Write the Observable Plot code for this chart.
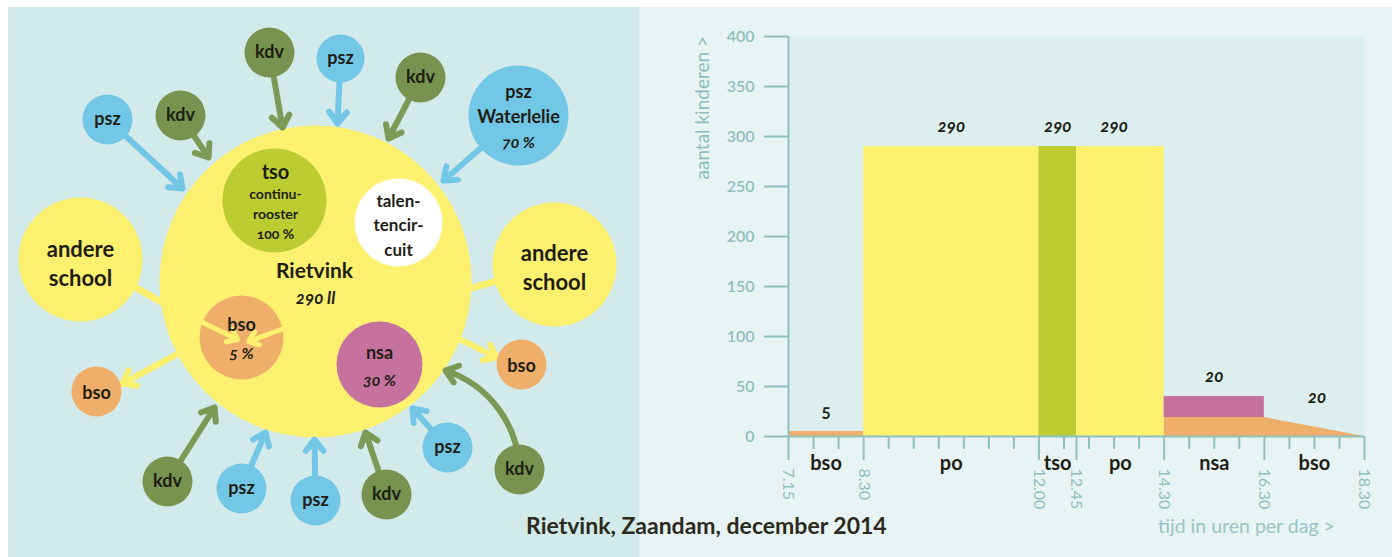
<!DOCTYPE html>
<html><head><meta charset="utf-8">
<script src="https://cdn.jsdelivr.net/npm/d3@7"></script>
<script src="https://cdn.jsdelivr.net/npm/@observablehq/plot@0.6"></script>
<style>
body{margin:0;background:#fff;font-family:Lato,sans-serif;}
#page{position:relative;width:1392px;height:557px;overflow:hidden;background:#fff;}
#leftbg{position:absolute;left:8px;top:7px;width:631px;height:550px;background:#d3eaea;}
#rightbg{position:absolute;left:639px;top:7px;width:753px;height:550px;background:#e8f4f4;}
.abs{position:absolute;}
svg{font-variant-numeric:oldstyle-nums;}
#ytitle{position:absolute;left:691px;top:36px;writing-mode:vertical-rl;transform:rotate(180deg);font-size:19px;line-height:22px;color:#8dbdbd;white-space:nowrap;}
#xtitle{position:absolute;left:1158px;top:515px;font-size:19.5px;line-height:22px;color:#97c4c4;white-space:nowrap;}
#caption{position:absolute;left:526px;top:513px;font-size:23px;line-height:25px;font-weight:bold;color:#2b2a1c;white-space:nowrap;}
</style></head><body>
<div id="page">
  <div id="leftbg"></div><div id="rightbg"></div>
  <div id="left" class="abs" style="left:0;top:0"></div>
  <div id="right" class="abs" style="left:639px;top:7px"></div>
  <div id="ytitle">aantal kinderen &gt;</div>
  <div id="xtitle">tijd in uren per dag &gt;</div>
  <div id="caption">Rietvink, Zaandam, december 2014</div>
</div>
<script>
// ---------- right chart data ----------
const barNames = ["bso", "po", "tso", "po", "nsa"];
const barFrom  = [7, 8.5, 12, 12.75, 14.5];
const barTo    = [8.5, 12, 12.75, 14.5, 16.5];
const barLow   = [0, 0, 0, 0, 19];
const barHigh  = [5, 290, 290, 290, 40];
const bsoAfterTime  = [14.5, 16.5, 18.5];
const bsoAfterCount = [19, 19, 0];
const segLabels = ["bso", "po", "tso", "po", "nsa", "bso"];
const segFrom   = [7, 8.5, 12, 12.75, 14.5, 16.5];
const segTo     = [8.5, 12, 12.75, 14.5, 16.5, 18.5];
const valueText = ["5", "290", "290", "290", "20", "20"];
const valueX    = [7.75, 10.25, 12.375, 13.5, 15.5, 17.55];
const valueY    = [5, 290, 290, 290, 40, 19];
const xMajor      = [7, 8.5, 12, 12.75, 14.5, 16.5, 18.5];
const xMajorLabel = ["7.15", "8.30", "12.00", "12.45", "14.30", "16.30", "18.30"];
const xMinor = [7.5, 8, 9, 9.5, 10, 10.5, 11, 11.5, 12.5, 13, 13.5, 14, 15, 15.5, 16, 17, 17.5, 18];
const yTicks = [0, 50, 100, 150, 200, 250, 300, 350, 400];

// ---------- left diagram data ----------
const satType = ["kdv","psz","kdv","psz","kdv","psz","kdv","psz","psz","kdv","psz","kdv"];
const satX    = [269, 340, 420, 107, 180, 518, 167, 241, 315, 386, 447, 519];
const satY    = [52, 58, 77, 119, 115, 115, 481, 488, 500, 494, 447, 469];
const satR    = [25, 24, 25, 25, 25, 50, 25, 25, 25, 25, 25, 25];
const satToX  = [282, 337, 388, 182, 208, 443, 214, 265, 314, 365, 412, 445];
const satToY  = [127, 123, 138, 188, 157, 180, 407, 432, 439, 432, 408, 370];
const satText = ["kdv","psz","kdv","psz","kdv","psz\nWaterlelie","kdv","psz","psz","kdv","psz","kdv"];

const palette = {
  yellow: "#fdf16f", psz: "#72c6e6", kdv: "#78934f", kdvArrow: "#7a9a55",
  bso: "#efae69", nsa: "#c6719e", tso: "#bdcc31", po: "#fdf16f",
  white: "#ffffff", ink: "#1e1e14", axis: "#8fbfbf", plotBg: "#dceeee"
};

// ---------- left diagram ----------
const sats = satType.map((t, i) => ({type: t, x: satX[i], y: satY[i], r: satR[i], tx: satToX[i], ty: satToY[i], text: satText[i]}));
const straightSats = sats.filter((d, i) => i !== 11);
const curvedSats = sats.filter((d, i) => i === 11);

const hub = [{x: 315, y: 281, r: 156}];
const otherSchools = [{x: 80, y: 259, r: 62}, {x: 554, y: 264, r: 62}];
const connectors = [{x1: 130, y1: 284, x2: 172, y2: 308}, {x1: 462, y1: 290, x2: 502, y2: 279}];
const outBso = [{x: 96, y: 391, r: 25}, {x: 521, y: 364, r: 25}];
const outArrows = [{x1: 178, y1: 353, x2: 122, y2: 383}, {x1: 458, y1: 338, x2: 496, y2: 357}];
const inner = [
  {x: 274, y: 200, r: 52, fill: palette.tso},
  {x: 398, y: 222, r: 44, fill: palette.white},
  {x: 241, y: 337, r: 42, fill: palette.bso},
  {x: 379, y: 364, r: 43, fill: palette.nsa}
];
const innerArrows = [{x1: 198, y1: 320, x2: 237, y2: 339}, {x1: 286, y1: 327, x2: 248, y2: 341}];

const labels = [
  {x: 80, y: 262, t: "andere\nschool", s: 22, w: "bold", st: "normal"},
  {x: 554, y: 266, t: "andere\nschool", s: 22, w: "bold", st: "normal"},
  {x: 96, y: 391, t: "bso", s: 18, w: "bold", st: "normal"},
  {x: 521, y: 364, t: "bso", s: 18, w: "bold", st: "normal"},
  {x: 314, y: 269, t: "Rietvink", s: 21, w: "bold", st: "normal"},
  {x: 315, y: 296, t: "290 ll", s: 17, w: "bold", st: "italic"},
  {x: 275, y: 170, t: "tso", s: 20, w: "bold", st: "normal"},
  {x: 275, y: 193, t: "continu-", s: 14, w: "bold", st: "normal"},
  {x: 275, y: 213, t: "rooster", s: 14, w: "bold", st: "normal"},
  {x: 275, y: 233, t: "100 %", s: 14, w: "bold", st: "normal"},
  {x: 398, y: 199, t: "talen-", s: 17, w: "bold", st: "normal"},
  {x: 398, y: 223, t: "tencir-", s: 17, w: "bold", st: "normal"},
  {x: 398, y: 248, t: "cuit", s: 17, w: "bold", st: "normal"},
  {x: 241, y: 323, t: "bso", s: 18, w: "bold", st: "normal"},
  {x: 241, y: 352, t: "5 %", s: 16, w: "bold", st: "italic"},
  {x: 379, y: 351, t: "nsa", s: 18, w: "bold", st: "normal"},
  {x: 379, y: 379, t: "30 %", s: 16, w: "bold", st: "italic"},
  {x: 518, y: 141, t: "70 %", s: 16, w: "bold", st: "italic"}
];

const arrowOpts = {headLength: 3.6, headAngle: 75, strokeLinejoin: "miter"};
const textMarks = labels.map(d => Plot.text([d], {x: "x", y: "y", text: "t", fontSize: d.s, fontWeight: d.w, fontStyle: d.st, fill: palette.ink, lineHeight: 1.3}));

const leftPlot = Plot.plot({
  width: 639, height: 557, margin: 0,
  x: {type: "identity", axis: null}, y: {type: "identity", axis: null}, r: {type: "identity"},
  color: {type: "identity"},
  style: {background: "transparent", fontFamily: "Lato", overflow: "visible"},
  marks: [
    Plot.link(connectors, {x1: "x1", y1: "y1", x2: "x2", y2: "y2", stroke: palette.yellow, strokeWidth: 7}),
    Plot.dot(hub, {x: "x", y: "y", r: "r", fill: palette.yellow}),
    Plot.arrow(outArrows, {x1: "x1", y1: "y1", x2: "x2", y2: "y2", stroke: palette.yellow, strokeWidth: 6, ...arrowOpts}),
    Plot.arrow(straightSats, {x1: "x", y1: "y", x2: "tx", y2: "ty", stroke: d => d.type === "psz" ? palette.psz : palette.kdvArrow, strokeWidth: 6, ...arrowOpts}),
    Plot.arrow(curvedSats, {x1: "x", y1: "y", x2: "tx", y2: "ty", stroke: palette.kdvArrow, strokeWidth: 6, bend: -35, ...arrowOpts}),
    Plot.dot(inner, {x: "x", y: "y", r: "r", fill: "fill"}),
    Plot.arrow(innerArrows, {x1: "x1", y1: "y1", x2: "x2", y2: "y2", stroke: palette.yellow, strokeWidth: 5, headLength: 3.4, headAngle: 75, strokeLinejoin: "miter"}),
    Plot.dot(sats, {x: "x", y: "y", r: "r", fill: d => d.type === "psz" ? palette.psz : palette.kdv}),
    Plot.dot(otherSchools, {x: "x", y: "y", r: "r", fill: palette.yellow}),
    Plot.dot(outBso, {x: "x", y: "y", r: "r", fill: palette.bso}),
    Plot.text(sats.filter(d => d.r < 40), {x: "x", y: "y", text: "text", fontSize: 18, fontWeight: "bold", fill: palette.ink}),
    Plot.text(sats.filter(d => d.r >= 40), {x: "x", y: d => d.y - 13, text: "text", fontSize: 18, fontWeight: "bold", fill: palette.ink, lineHeight: 1.4}),
    ...textMarks
  ]
});
document.getElementById("left").appendChild(leftPlot);

// ---------- right chart ----------
const bars = barNames.map((n, i) => ({name: n, x1: barFrom[i], x2: barTo[i], y1: barLow[i], y2: barHigh[i]}));
const tail = bsoAfterTime.map((t, i) => ({x: t, y: bsoAfterCount[i]}));
const segs = segLabels.map((s, i) => ({s, x: (segFrom[i] + segTo[i]) / 2}));
const vals = valueText.map((t, i) => ({t, x: valueX[i], y: valueY[i], italic: t !== "5"}));
const majorLabel = new Map(xMajor.map((v, i) => [v, xMajorLabel[i]]));

const rightPlot = Plot.plot({
  width: 753, height: 550,
  marginLeft: 149, marginRight: 28, marginTop: 29, marginBottom: 121,
  x: {domain: [7, 18.5]}, y: {domain: [0, 400]},
  style: {background: "transparent", fontFamily: "Lato", overflow: "visible"},
  marks: [
    Plot.frame({fill: palette.plotBg, stroke: null}),
    Plot.areaY(tail, {x: "x", y: "y", fill: palette.bso, curve: "linear"}),
    Plot.rect(bars, {x1: "x1", x2: "x2", y1: "y1", y2: "y2", fill: d => palette[d.name]}),
    Plot.ruleX(xMinor, {y1: 0, y2: -13, stroke: palette.axis, strokeWidth: 2}),
    Plot.axisX(xMajor, {tickSize: 24, tickRotate: 90, tickPadding: 8, tickFormat: d => majorLabel.get(d), fontSize: 16, color: palette.axis, strokeWidth: 2, label: null}),
    Plot.axisY(yTicks, {tickSize: 24, tickPadding: 10, fontSize: 16, fontWeight: 600, color: palette.axis, strokeWidth: 2, label: null}),
    Plot.ruleX([7], {stroke: palette.axis, strokeWidth: 2}),
    Plot.ruleY([0], {stroke: palette.axis, strokeWidth: 2}),
    Plot.text(segs, {x: "x", y: 0, dy: 27, text: "s", fontSize: 20, fontWeight: "bold", fill: palette.ink}),
    Plot.text(vals.filter(d => d.italic), {x: "x", y: "y", dy: -20, text: "t", fontSize: 17, fontWeight: "bold", fontStyle: "italic", fill: palette.ink}),
    Plot.text(vals.filter(d => !d.italic), {x: "x", y: "y", dy: -20, text: "t", fontSize: 17, fontWeight: "bold", fill: palette.ink})
  ]
});
document.getElementById("right").appendChild(rightPlot);
</script>
</body></html>
